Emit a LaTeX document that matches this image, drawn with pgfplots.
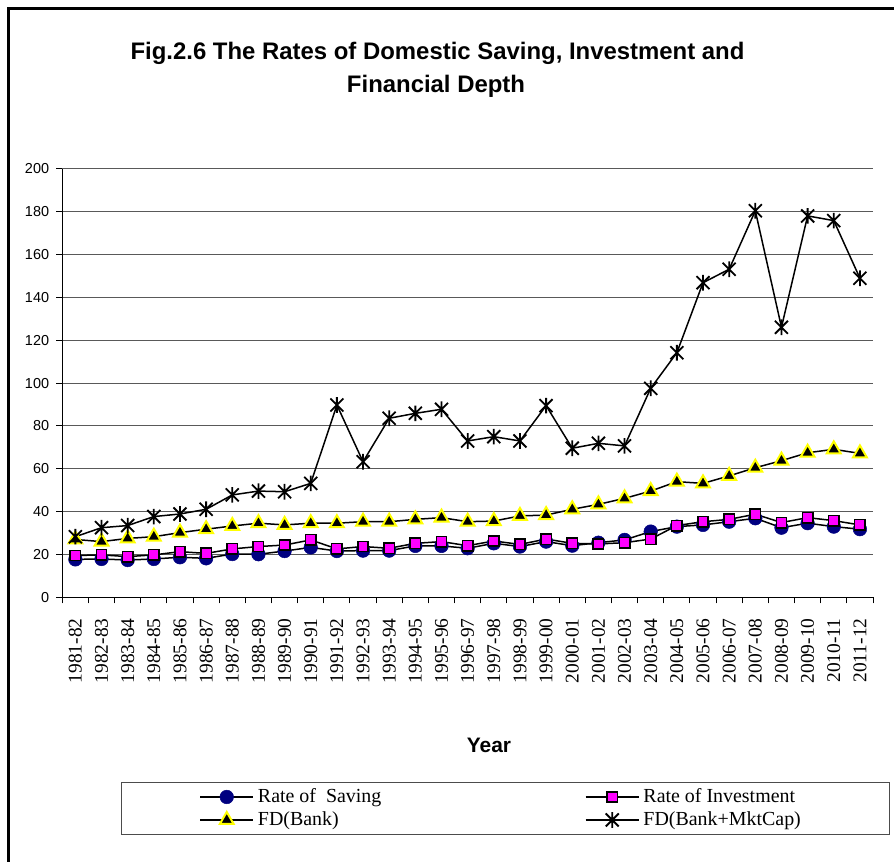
\documentclass[border=0pt]{standalone}
\usepackage{fontspec}
\setmainfont{Liberation Serif}
\newfontfamily\arial{Liberation Sans}
\usepackage{pgfplots}
\usepackage{pgfplotstable}
\pgfplotsset{compat=1.18}
\definecolor{navyc}{RGB}{0,0,128}
\definecolor{magc}{RGB}{255,0,255}
\definecolor{yelc}{RGB}{255,255,0}
\pgfdeclareplotmark{xstar}{%
  \pgfpathmoveto{\pgfqpoint{-\pgfplotmarksize}{-\pgfplotmarksize}}%
  \pgfpathlineto{\pgfqpoint{\pgfplotmarksize}{\pgfplotmarksize}}%
  \pgfpathmoveto{\pgfqpoint{-\pgfplotmarksize}{\pgfplotmarksize}}%
  \pgfpathlineto{\pgfqpoint{\pgfplotmarksize}{-\pgfplotmarksize}}%
  \pgfpathmoveto{\pgfqpoint{0pt}{-1.2\pgfplotmarksize}}%
  \pgfpathlineto{\pgfqpoint{0pt}{1.2\pgfplotmarksize}}%
  \pgfusepathqstroke}

\pgfplotstableread{
i sav inv fdb fdm
0 17.7 19.5 27.0 28.3
1 17.9 19.8 26.0 32.5
2 17.4 19.0 27.5 33.5
3 17.9 19.8 28.3 37.7
4 18.7 21.3 30.2 38.9
5 18.2 20.5 31.8 41.1
6 20.2 22.6 33.3 47.8
7 20.1 23.7 34.6 49.6
8 21.6 24.4 33.8 49.3
9 23.3 26.8 34.6 53.2
10 21.6 22.6 34.6 89.8
11 21.8 23.7 35.3 63.3
12 21.8 22.9 35.3 83.6
13 24.0 25.2 36.4 85.9
14 24.0 26.0 37.2 87.8
15 22.9 24.1 35.3 73.0
16 25.2 26.3 35.6 75.0
17 23.7 24.7 38.0 73.0
18 26.0 27.2 38.4 89.5
19 24.1 25.2 41.1 69.6
20 25.5 24.9 43.4 71.9
21 26.8 25.5 46.2 70.7
22 30.7 27.2 49.6 97.6
23 33.0 33.5 54.0 114.2
24 33.8 35.3 53.2 146.9
25 35.3 36.4 56.7 153.2
26 36.9 38.8 60.5 180.5
27 32.5 34.9 63.8 126.1
28 34.6 37.2 67.5 178.1
29 33.0 35.8 69.1 175.9
30 31.8 33.8 67.2 149.0
}\data

\begin{document}
\begin{tikzpicture}
\useasboundingbox (0,0) rectangle (894bp,862bp);
\draw[line width=2.5bp] (8.5bp,0) -- (8.5bp,853.5bp) -- (894bp,853.5bp);
\begin{axis}[
  at={(62.3bp,264.7bp)}, anchor=south west,
  scale only axis, width=810.7bp, height=428.3bp,
  xmin=-0.5, xmax=30.5, ymin=0, ymax=200,
  enlargelimits=false,
  axis lines=left, axis line style={-, line width=1.2bp},
  xtick={-0.5,0.5,...,30.5}, x tick label as interval,
  xticklabels={1981-82,1982-83,1983-84,1984-85,1985-86,1986-87,1987-88,1988-89,1989-90,1990-91,1991-92,1992-93,1993-94,1994-95,1995-96,1996-97,1997-98,1998-99,1999-00,2000-01,2001-02,2002-03,2003-04,2004-05,2005-06,2006-07,2007-08,2008-09,2009-10,2010-11,2011-12},
  ytick={0,20,...,200},
  ymajorgrids, grid style={line width=1bp, black!65},
  tick align=outside, major tick length=6bp, tick style={black, line width=1bp},
  xticklabel style={rotate=90, anchor=east, inner sep=0pt, xshift=-15bp, font=\fontsize{19.5}{20}\selectfont},
  yticklabel style={anchor=east, inner sep=0pt, xshift=-7bp, font=\arial\fontsize{14.5}{16}\selectfont},
  /pgf/number format/assume math mode=true,
  xlabel={Year},
  xlabel style={at={(axis description cs:0.5263,-0.3635)}, anchor=base, inner sep=0pt, font=\arial\bfseries\fontsize{21}{24}\selectfont},
  legend columns=2,
  legend cell align=left,
  legend style={at={(axis description cs:0.0724,-0.4312)}, anchor=north west, draw=black!70, line width=1bp, inner xsep=78bp, inner ysep=5.5bp, column sep=0pt, row sep=5bp, nodes={inner xsep=4bp, inner ysep=0pt, text height=15bp, text depth=3bp, font=\fontsize{20}{22}\selectfont}},
  legend image code/.code={\draw[mark repeat=2,mark phase=2,#1] plot coordinates {(0bp,0bp) (26.5bp,0bp) (53bp,0bp)};},
  clip=false,
]
\addplot[black, line width=1.5bp, mark=*, mark size=6.8bp, mark options={fill=navyc, draw=navyc, line width=0.5bp}] table[x=i, y=sav] {\data};
\addlegendentry{\makebox[323bp][l]{Rate of\ \ Saving}}
\addplot[black, line width=1.5bp, mark=square*, mark size=5.2bp, mark options={fill=magc, draw=black, line width=1.5bp}] table[x=i, y=inv] {\data};
\addlegendentry{\makebox[164bp][l]{Rate of Investment}}
\addplot[black, line width=1.5bp, mark=triangle*, mark size=8bp, mark options={fill=black, draw=yelc, line width=2bp}] table[x=i, y=fdb] {\data};
\addlegendentry{FD(Bank)}
\addplot[black, line width=1.5bp, mark=xstar, mark size=6.5bp, mark options={draw=black, line width=1.8bp}] table[x=i, y=fdm] {\data};
\addlegendentry{FD(Bank+MktCap)}
\end{axis}
\node[anchor=base, inner sep=0pt, font=\arial\bfseries\fontsize{24}{28}\selectfont] at (437.5bp,802bp) {Fig.2.6 The Rates of Domestic Saving, Investment and};
\node[anchor=base, inner sep=0pt, font=\arial\bfseries\fontsize{24}{28}\selectfont] at (436bp,769bp) {Financial Depth};
\end{tikzpicture}
\end{document}
